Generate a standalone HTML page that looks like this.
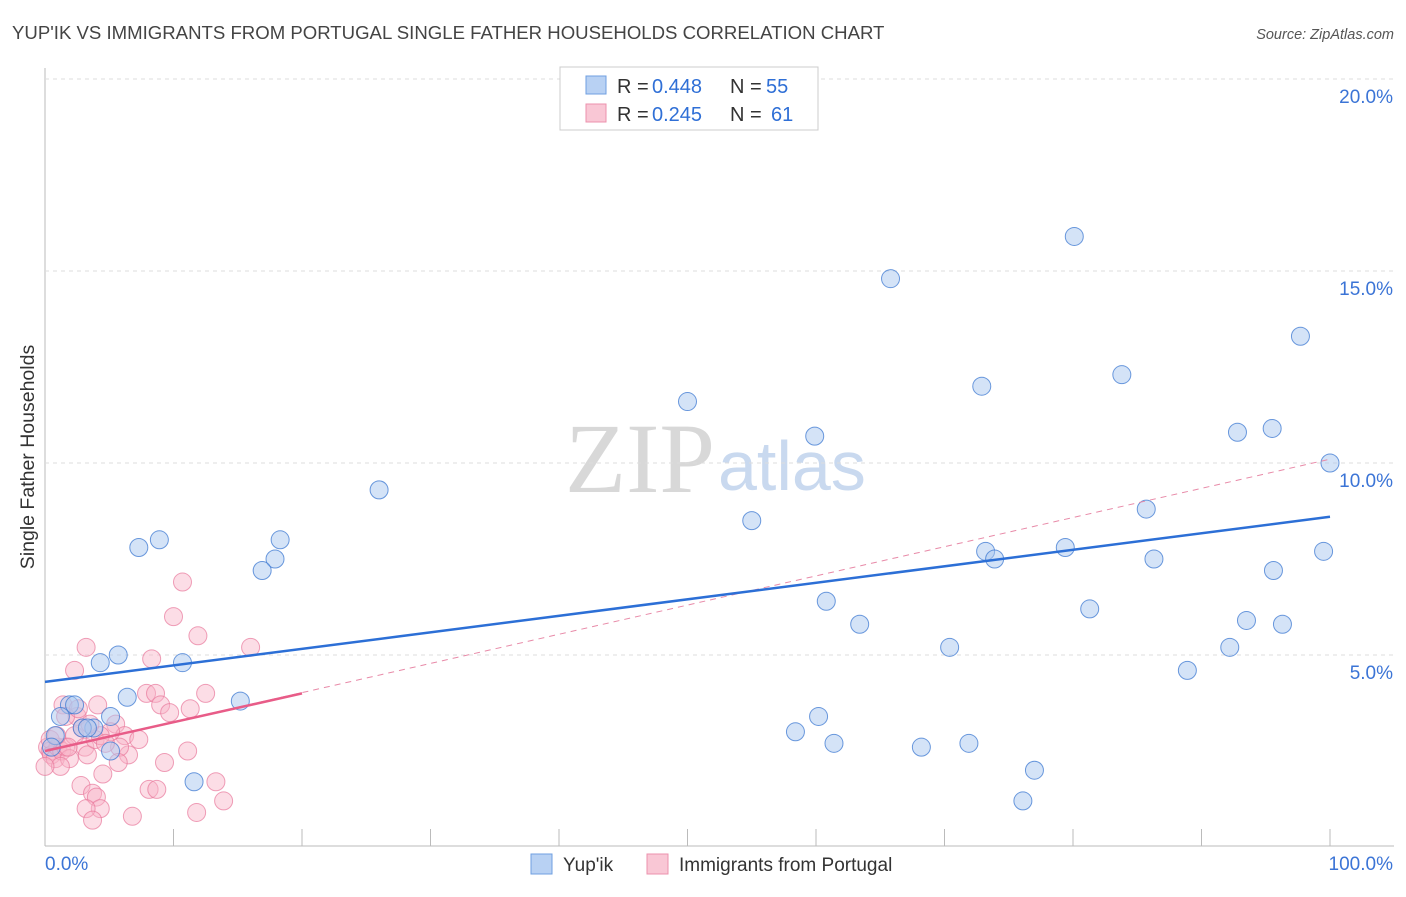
<!DOCTYPE html>
<html><head><meta charset="utf-8"><style>
body{margin:0;background:#fff;font-family:"Liberation Sans",sans-serif}
svg text{font-family:"Liberation Sans",sans-serif}
</style></head><body>
<svg id="c" width="1406" height="892">
<text x="12" y="39" font-size="18.6" fill="#444">YUP'IK VS IMMIGRANTS FROM PORTUGAL SINGLE FATHER HOUSEHOLDS CORRELATION CHART</text>
<text x="1394" y="39" font-size="14.5" fill="#555" font-style="italic" text-anchor="end">Source: ZipAtlas.com</text>
<text x="715" y="492" font-size="100" fill="#d8d8d8" text-anchor="end" style="font-family:'Liberation Serif',serif">ZIP</text>
<text x="718" y="490" font-size="70" fill="#c9d9ef">atlas</text>
<text transform="translate(34,457) rotate(-90)" font-size="19.5" fill="#333" text-anchor="middle">Single Father Households</text>
<g id="grid"></g><g id="pts"></g><g id="lines"></g>
<g>
<rect x="560" y="67" width="258" height="63" fill="#fff" stroke="#ccc"/>
<rect x="586" y="76" width="20" height="18" fill="#b8d1f3" stroke="#6f9fe0"/>
<rect x="586" y="104" width="20" height="18" fill="#f9c7d5" stroke="#ec92ad"/>
<text x="617" y="93" font-size="20" fill="#333">R =</text><text x="652" y="93" font-size="20" fill="#2f6fd6">0.448</text>
<text x="730" y="93" font-size="20" fill="#333">N =</text><text x="766" y="93" font-size="20" fill="#2f6fd6">55</text>
<text x="617" y="121" font-size="20" fill="#333">R =</text><text x="652" y="121" font-size="20" fill="#2f6fd6">0.245</text>
<text x="730" y="121" font-size="20" fill="#333">N =</text><text x="771" y="121" font-size="20" fill="#2f6fd6">61</text>
</g>
<g>
<rect x="531" y="854" width="21" height="20" fill="#b8d1f3" stroke="#6f9fe0"/>
<text x="563" y="871" font-size="19" fill="#333">Yup'ik</text>
<rect x="647" y="854" width="21" height="20" fill="#f9c7d5" stroke="#ec92ad"/>
<text x="679" y="871" font-size="19" fill="#333">Immigrants from Portugal</text>
</g>
</svg>
<script>
const yTicks=[5,10,15,20];
const xTickLabels=["0.0%","100.0%"];
const blueX=[80.1,65.8,97.7,50.0,72.9,83.8,59.9,92.8,95.5,100,26.0,55.0,85.7,8.9,7.3,18.3,17.9,16.9,73.2,73.9,79.4,86.3,99.5,95.6,60.8,81.3,63.4,93.5,96.3,70.4,92.2,88.9,5.7,4.3,10.7,6.4,15.2,58.4,60.2,61.4,68.2,71.9,77.0,76.1,11.6,5.1,5.1,1.9,1.2,2.3,0.8,3.8,2.9,3.3,0.5];
const blueY=[15.9,14.8,13.3,11.6,12.0,12.3,10.7,10.8,10.9,10.0,9.3,8.5,8.8,8.0,7.8,8.0,7.5,7.2,7.7,7.5,7.8,7.5,7.7,7.2,6.4,6.2,5.8,5.9,5.8,5.2,5.2,4.6,5.0,4.8,4.8,3.9,3.8,3.0,3.4,2.7,2.6,2.7,2.0,1.2,1.7,2.5,3.4,3.7,3.4,3.7,2.9,3.1,3.1,3.1,2.6];
const pinkX=[10.7,10.0,11.9,16.0,3.2,2.3,8.3,7.9,8.6,9.0,9.7,11.3,12.5,4.1,1.4,2.5,5.5,6.2,7.3,11.1,9.3,6.5,4.5,2.8,3.7,4.0,4.3,3.2,3.7,6.8,8.1,8.7,11.8,13.3,13.9,0.2,0.4,0.5,0.8,1.0,1.3,1.6,1.9,1.2,0,0.4,2.3,3.1,3.3,3.9,5.1,4.3,1.8,0.9,5.8,5.7,4.7,2.9,1.6,3.5,2.6];
const pinkY=[6.9,6.0,5.5,5.2,5.2,4.6,4.9,4.0,4.0,3.7,3.5,3.6,4.0,3.7,3.7,3.4,3.2,2.9,2.8,2.5,2.2,2.4,1.9,1.6,1.4,1.3,1.0,1.0,0.7,0.8,1.5,1.5,0.9,1.7,1.2,2.6,2.5,2.4,2.3,2.6,2.5,2.6,2.3,2.1,2.1,2.8,2.9,2.6,2.4,2.8,3.0,2.9,2.6,2.9,2.6,2.2,2.7,3.1,3.4,3.2,3.6];
const blueLine=[4.3,8.6];
const pinkLine=[2.5,4.0,10.1];
const pinkSolidEnd=20;
const X=v=>45+v*12.85, Y=v=>847-v*38.4;
const NS="http://www.w3.org/2000/svg";
function mk(t,a,p){const e=document.createElementNS(NS,t);for(const k in a)e.setAttribute(k,a[k]);p.appendChild(e);return e;}
const svg=document.getElementById('c'),grid=document.getElementById('grid'),pts=document.getElementById('pts'),lines=document.getElementById('lines');
let ax=mk('line',{x1:45,y1:68,x2:45,y2:846,stroke:'#bbb'},grid);


let bx=mk('line',{x1:45,y1:846,x2:1394,y2:846,stroke:'#bbb'},grid);


for(let i=1;i<=10;i++){const t=mk('line',{x1:45+i*128.5,y1:829,x2:45+i*128.5,y2:846,stroke:'#bbb'},grid);

}
yTicks.forEach(v=>{const g=mk('line',{x1:45,y1:Y(v),x2:1394,y2:Y(v),stroke:'#ddd','stroke-dasharray':'4,4'},grid);


const t=mk('text',{x:1393,y:Y(v)+24,'font-size':19,fill:'#3b74d6','text-anchor':'end'},grid);t.textContent=v.toFixed(1)+'%';

});
[[45,'start',0],[1393,'end',1]].forEach(([x,a,i])=>{const t=mk('text',{x:x,y:870,'font-size':19,fill:'#3b74d6','text-anchor':a},grid);t.textContent=xTickLabels[i];

});
pinkX.forEach((x,i)=>{const c=mk('circle',{cx:X(x),cy:Y(pinkY[i]),r:9,fill:'rgba(248,180,200,0.45)',stroke:'rgba(232,120,155,0.7)','stroke-width':1},pts);

});
blueX.forEach((x,i)=>{const c=mk('circle',{cx:X(x),cy:Y(blueY[i]),r:9,fill:'rgba(170,200,240,0.5)',stroke:'rgba(60,120,210,0.75)','stroke-width':1},pts);

});
let l=mk('line',{x1:X(0),y1:Y(pinkLine[0]),x2:X(100),y2:Y(pinkLine[2]),stroke:'#e88aa8','stroke-width':1,'stroke-dasharray':'6,5'},lines);


l=mk('line',{x1:X(0),y1:Y(pinkLine[0]),x2:X(pinkSolidEnd),y2:Y(pinkLine[1]),stroke:'#e85c88','stroke-width':2.5},lines);


l=mk('line',{x1:X(0),y1:Y(blueLine[0]),x2:X(100),y2:Y(blueLine[1]),stroke:'#2c6fd6','stroke-width':2.5},lines);


</script>
</body></html>
